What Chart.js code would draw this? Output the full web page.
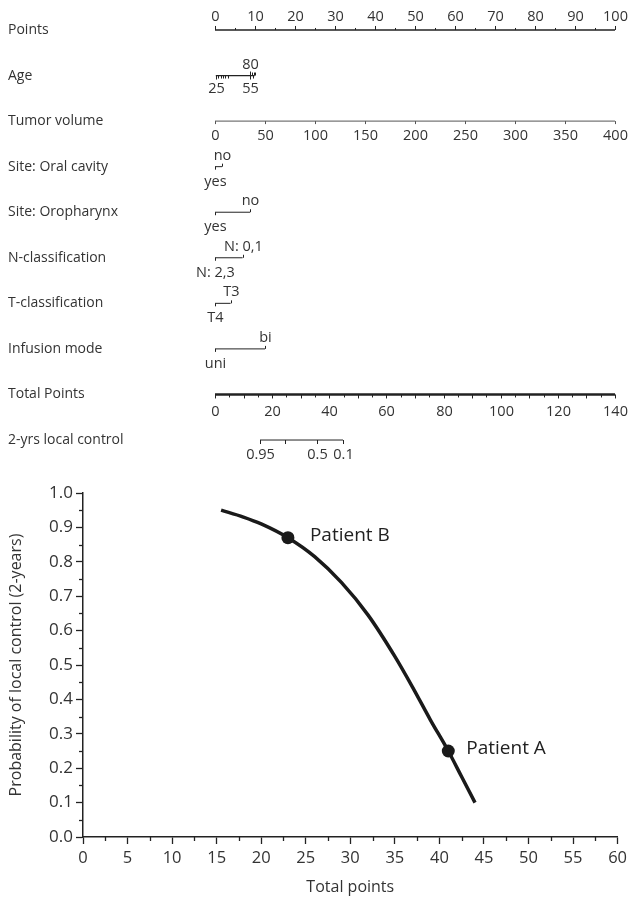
<!DOCTYPE html>
<html>
<head>
<meta charset="utf-8">
<script src="https://cdn.jsdelivr.net/npm/chart.js@4.4.1/dist/chart.umd.min.js"></script>
<style>
  html, body { margin: 0; padding: 0; background: #fff; }
  canvas { display: block; }
</style>
</head>
<body>
<canvas id="nomogram" width="631" height="470"></canvas>
<canvas id="curve" width="631" height="430"></canvas>
<script>
const FONT = "'Open Sans', 'Noto Sans', sans-serif";

// ---- nomogram rows ----
const rowNames = ['Points', 'Age', 'Tumor volume', 'Site: Oral cavity', 'Site: Oropharynx',
  'N-classification', 'T-classification', 'Infusion mode', 'Total Points', '2-yrs local control'];

const pointTicks = [0, 5, 10, 15, 20, 25, 30, 35, 40, 45, 50, 55, 60, 65, 70, 75, 80, 85, 90, 95, 100];
const pointLabels = [0, 10, 20, 30, 40, 50, 60, 70, 80, 90, 100];

const ageValues = [25, 30, 35, 40, 45, 50, 55, 60, 65, 70, 75, 80];
const agePoints = [0.2, 0.8, 1.4, 1.9, 2.5, 3.3, 8.7, 9.5, 9.9, 9.7, 9.2, 8.7];
const ageLabels = [25, 55, 80];
const ageUpper = [65, 70, 75, 80];

const tumorTicks = [0, 50, 100, 150, 200, 250, 300, 350, 400];
const tumorMax = 400;

const oralLevels = ['yes', 'no'];
const oralPoints = [0, 1.75];
const oroLevels = ['yes', 'no'];
const oroPoints = [0, 8.75];
const nLevels = ['N: 2,3', 'N: 0,1'];
const nPoints = [0, 6.9];
const tLevels = ['T4', 'T3'];
const tPoints = [0, 3.9];
const infusionLevels = ['uni', 'bi'];
const infusionPoints = [0, 12.5];

const totalTicks = [0, 5, 10, 15, 20, 25, 30, 35, 40, 45, 50, 55, 60, 65, 70,
  75, 80, 85, 90, 95, 100, 105, 110, 115, 120, 125, 130, 135, 140];
const totalLabels = [0, 20, 40, 60, 80, 100, 120, 140];
const totalMax = 140;

const lcLabels = ['0.95', '', '0.5', '0.1'];
const lcTotals = [15.75, 24.5, 35.7, 44.8];

// ---- probability curve ----
const curveTotals = [15.5, 18, 20, 23, 26, 29, 32, 35, 37, 39, 41, 42.5, 44];
const curveProbs = [0.95, 0.93, 0.91, 0.87, 0.815, 0.74, 0.645, 0.525, 0.435, 0.34, 0.25, 0.175, 0.10];
const patientNames = ['Patient B', 'Patient A'];
const patientTotals = [23, 41];
const patientProbs = [0.87, 0.25];
const patientOffsets = [22, 18];

// build tick lists for every nomogram row
function categoryTicks(levels, pts) {
  return levels.map((lab, i) => ({ pts: pts[i], label: lab, side: i === 0 ? 'down' : 'up', len: 3 }));
}

const rows = [
  { ticks: pointTicks.map(v => ({ pts: v, label: pointLabels.includes(v) ? String(v) : '', side: 'up', len: v % 10 === 0 ? 4 : 2 })),
    width: 1.6, gapUp: 13 },
  { ticks: ageValues.map((v, i) => ({ pts: agePoints[i], label: ageLabels.includes(v) ? String(v) : '',
      side: ageUpper.includes(v) ? 'up' : 'down', len: ageLabels.includes(v) ? 4 : 3 })),
    width: 1.2, gapUp: 11, gapDown: 13 },
  { ticks: tumorTicks.map(v => ({ pts: v * 100 / tumorMax, label: String(v), side: 'down', len: 3 })),
    width: 1, color: '#555', gapDown: 15 },
  { ticks: categoryTicks(oralLevels, oralPoints), width: 1 },
  { ticks: categoryTicks(oroLevels, oroPoints), width: 1 },
  { ticks: categoryTicks(nLevels, nPoints), width: 1 },
  { ticks: categoryTicks(tLevels, tPoints), width: 1 },
  { ticks: categoryTicks(infusionLevels, infusionPoints), width: 1 },
  { ticks: totalTicks.map(v => ({ pts: v * 100 / totalMax, label: totalLabels.includes(v) ? String(v) : '', side: 'down', len: v % 10 === 0 ? 4 : 3 })),
    width: 2.4, gapDown: 17 },
  { ticks: lcTotals.map((t, i) => ({ pts: t * 100 / totalMax, label: lcLabels[i], side: 'down', len: 4 })),
    width: 1, gapDown: 15 }
];

const nomogramDrawer = {
  id: 'nomogramDrawer',
  afterDatasetsDraw(chart) {
    const { ctx, scales: { x, y } } = chart;
    ctx.save();
    ctx.textBaseline = 'middle';
    rows.forEach((row, r) => {
      const py = y.getPixelForValue(r);
      ctx.fillStyle = '#333';
      ctx.font = `14px ${FONT}`;
      ctx.textAlign = 'left';
      ctx.fillText(rowNames[r], 8, py);

      ctx.font = `14.5px ${FONT}`;
      ctx.strokeStyle = row.color || '#222';
      ctx.lineWidth = 1;
      ctx.textAlign = 'center';
      row.ticks.forEach(t => {
        const px = Math.round(x.getPixelForValue(t.pts)) + 0.5;
        const dir = t.side === 'up' ? -1 : 1;
        ctx.beginPath();
        ctx.moveTo(px, py);
        ctx.lineTo(px, py + dir * t.len);
        ctx.stroke();
        if (t.label) {
          const gap = t.side === 'up' ? (row.gapUp || 11) : (row.gapDown || 15);
          ctx.fillText(t.label, px, py + dir * gap);
        }
      });
    });
    ctx.restore();
  }
};

new Chart(document.getElementById('nomogram'), {
  type: 'scatter',
  data: {
    datasets: rows.map((row, r) => {
      const pts = row.ticks.map(t => t.pts);
      return {
        data: [{ x: Math.min(...pts), y: r }, { x: Math.max(...pts), y: r }],
        showLine: true,
        borderColor: row.color || '#222',
        borderWidth: row.width,
        pointRadius: 0
      };
    })
  },
  options: {
    responsive: false,
    animation: false,
    layout: { padding: 0 },
    plugins: { legend: { display: false }, tooltip: { enabled: false } },
    scales: {
      x: { type: 'linear', display: false, min: -53.75, max: 104 },
      y: { type: 'linear', display: false, reverse: true, min: -0.658, max: 9.658 }
    }
  },
  plugins: [nomogramDrawer]
});

// short unlabelled ticks between the numbered ones
const minorTicks = {
  id: 'minorTicks',
  afterDraw(chart) {
    const { ctx, scales: { x, y }, chartArea } = chart;
    ctx.save();
    ctx.strokeStyle = '#222';
    ctx.lineWidth = 1.3;
    for (let v = 0.05; v < 1; v += 0.1) {
      const py = Math.round(y.getPixelForValue(v)) + 0.5;
      ctx.beginPath();
      ctx.moveTo(chartArea.left, py);
      ctx.lineTo(chartArea.left - 4, py);
      ctx.stroke();
    }
    for (let v = 2.5; v < 60; v += 5) {
      const px = Math.round(x.getPixelForValue(v)) + 0.5;
      ctx.beginPath();
      ctx.moveTo(px, chartArea.bottom);
      ctx.lineTo(px, chartArea.bottom + 4);
      ctx.stroke();
    }
    ctx.restore();
  }
};

const patientLabels = {
  id: 'patientLabels',
  afterDatasetsDraw(chart) {
    const { ctx, scales: { x, y } } = chart;
    ctx.save();
    ctx.font = `19px ${FONT}`;
    ctx.fillStyle = '#222';
    ctx.textBaseline = 'middle';
    ctx.textAlign = 'left';
    patientNames.forEach((name, i) => {
      ctx.fillText(name, x.getPixelForValue(patientTotals[i]) + patientOffsets[i], y.getPixelForValue(patientProbs[i]) - 2);
    });
    ctx.restore();
  }
};

new Chart(document.getElementById('curve'), {
  type: 'scatter',
  data: {
    datasets: [
      {
        data: curveTotals.map((t, i) => ({ x: t, y: curveProbs[i] })),
        showLine: true,
        borderColor: '#1a1a1a',
        borderWidth: 3.5,
        pointRadius: 0,
        cubicInterpolationMode: 'monotone'
      },
      {
        data: patientTotals.map((t, i) => ({ x: t, y: patientProbs[i] })),
        pointRadius: 6.5,
        backgroundColor: '#1a1a1a',
        borderWidth: 0
      }
    ]
  },
  options: {
    responsive: false,
    animation: false,
    layout: { padding: { left: 0, right: 11, top: 23, bottom: 0 } },
    plugins: { legend: { display: false }, tooltip: { enabled: false } },
    scales: {
      x: {
        type: 'linear', min: 0, max: 60,
        ticks: { stepSize: 5, color: '#333', font: { family: FONT, size: 16.5 }, padding: 4, maxRotation: 0, autoSkip: false },
        grid: { drawOnChartArea: false, tickLength: 7, tickColor: '#222', tickWidth: 1.3 },
        border: { color: '#222', width: 1.5 },
        title: { display: true, text: 'Total points', color: '#333', font: { family: FONT, size: 16 }, padding: { top: 0, bottom: 3 } },
        afterFit(scale) { scale.height = 63; }
      },
      y: {
        type: 'linear', min: 0, max: 1,
        ticks: { stepSize: 0.1, color: '#333', font: { family: FONT, size: 17 }, padding: 3, callback: v => v.toFixed(1) },
        grid: { drawOnChartArea: false, tickLength: 7, tickColor: '#222', tickWidth: 1.3 },
        border: { color: '#222', width: 1.5 },
        title: { display: true, text: 'Probability of local control (2-years)', color: '#333', font: { family: FONT, size: 16 }, padding: { top: 7, bottom: 0 } },
        afterFit(scale) { scale.width = 83; }
      }
    }
  },
  plugins: [minorTicks, patientLabels]
});
</script>
</body>
</html>
